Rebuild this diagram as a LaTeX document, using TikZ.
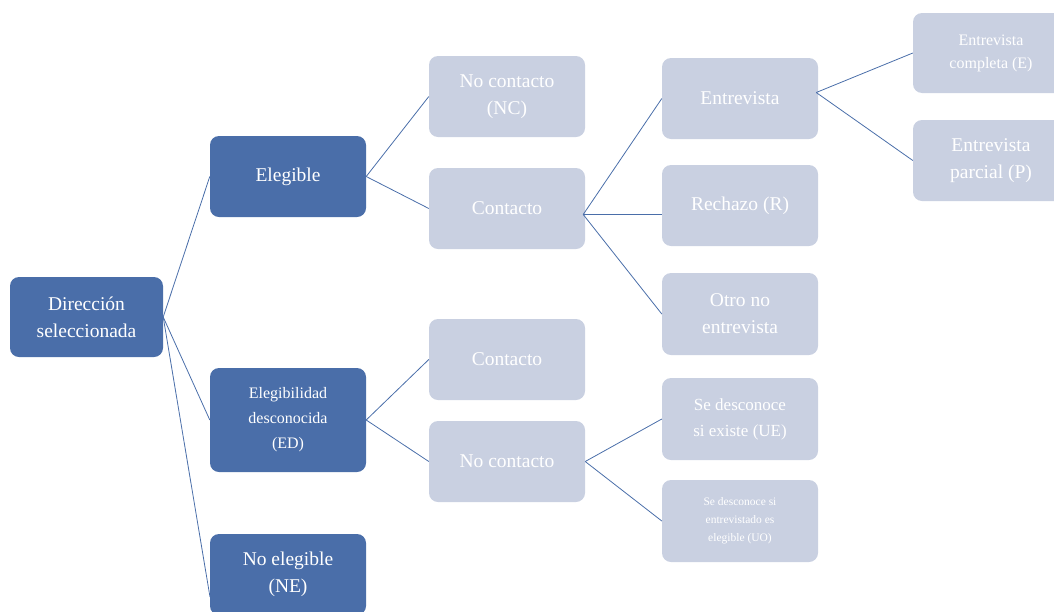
\documentclass[tikz,border=0pt]{standalone}
\usepackage{fontspec}
\setmainfont{Liberation Serif}
\definecolor{darkb}{HTML}{4A6EA9}
\definecolor{lightb}{HTML}{C9D0E1}
\definecolor{linec}{HTML}{4A6EA9}
\begin{document}
\begin{tikzpicture}[x=1pt,y=-1pt,
  box/.style={rounded corners=9pt,minimum width=156pt,minimum height=81pt,text=white,align=center,inner sep=0pt,font=\fontsize{19.5}{27}\selectfont},
  dbox/.style={box,fill=darkb},
  lbox/.style={box,fill=lightb},
  conn/.style={draw=linec,line width=0.8pt}]
\useasboundingbox (0,0) rectangle (1054,611);
\begin{scope}
\clip (0,0) rectangle (1054,611);
\node[dbox,minimum width=153pt,minimum height=80pt] (dir) at (86.5,317) {Dirección\\seleccionada};
\node[dbox] (eleg) at (288,176.5) {Elegible};
\node[dbox,minimum height=104pt,font=\fontsize{16}{25}\selectfont] (ed) at (288,420) {Elegibilidad\\desconocida\\(ED)};
\node[dbox] (ne) at (288,574.5) {No elegible\\(NE)};
\node[lbox] (nc1) at (507,96.5) {No contacto\\(NC)};
\node[lbox] (c1) at (507,208.5) {Contacto};
\node[lbox] (c2) at (507,359.5) {Contacto};
\node[lbox] (nc2) at (507,461.5) {No contacto};
\node[lbox] (ent) at (740,98.5) {Entrevista};
\node[lbox] (rech) at (740,205.5) {Rechazo (R)};
\node[lbox,minimum height=82pt] (otro) at (740,314) {Otro no\\entrevista};
\node[lbox,minimum height=82pt,font=\fontsize{17}{26}\selectfont] (ue) at (740,419) {Se desconoce\\si existe (UE)};
\node[lbox,minimum height=82pt,font=\fontsize{11.5}{18}\selectfont] (uo) at (740,521) {Se desconoce si\\entrevistado es\\elegible (UO)};
\node[lbox,minimum height=80pt,font=\fontsize{16}{23}\selectfont] (ec) at (991,53) {Entrevista\\completa (E)};
\node[lbox,minimum height=81pt] (ep) at (991,160.5) {Entrevista\\parcial (P)};
\end{scope}
\draw[conn] (dir.east) -- (eleg.west);
\draw[conn] (dir.east) -- (ed.west);
\draw[conn] (dir.east) -- (210,597);
\draw[conn] (eleg.east) -- (nc1.west);
\draw[conn] (eleg.east) -- (c1.west);
\draw[conn] (ed.east) -- (c2.west);
\draw[conn] (ed.east) -- (nc2.west);
\draw[conn] (c1.east) ++(-2,6) coordinate (c1o);
\draw[conn] (c1o) -- (ent.west);
\draw[conn] (c1o) -- (rech.west |- c1o);
\draw[conn] (c1o) -- (otro.west);
\draw[conn] (nc2.east) -- (ue.west);
\draw[conn] (nc2.east) -- (uo.west);
\draw[conn] (ent.east) ++(-2,-6) coordinate (ento);
\draw[conn] (ento) -- (ec.west);
\draw[conn] (ento) -- (ep.west);
\end{tikzpicture}
\end{document}
